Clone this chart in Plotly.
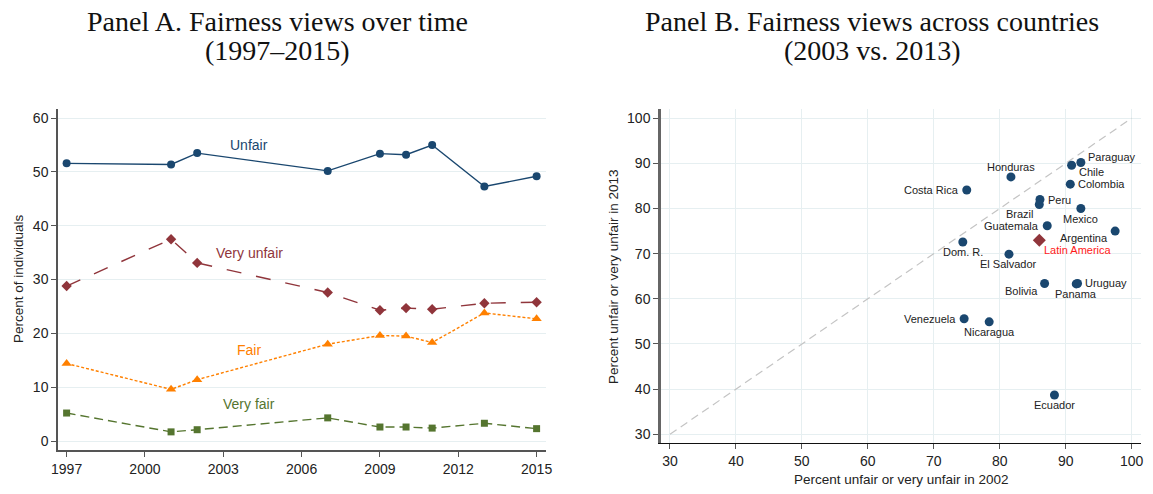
import plotly.graph_objects as go

# ---------------- Panel A data ----------------
years = [1997, 2001, 2002, 2007, 2009, 2010, 2011, 2013, 2015]
unfair = [51.6, 51.4, 53.5, 50.2, 53.4, 53.2, 55.0, 47.3, 49.2]
very_unfair = [28.8, 37.5, 33.1, 27.6, 24.3, 24.7, 24.5, 25.6, 25.8]
fair = [14.4, 9.6, 11.4, 18.0, 19.6, 19.5, 18.3, 23.8, 22.7]
very_fair = [5.2, 1.7, 2.1, 4.3, 2.6, 2.6, 2.4, 3.3, 2.3]
series_names = ["Unfair", "Very unfair", "Fair", "Very fair"]
label_x = [2004, 2004, 2004, 2004]
label_y = [55.0, 35.0, 17.0, 6.9]

# ---------------- Panel B data ----------------
countries = ["Paraguay", "Chile", "Colombia", "Honduras", "Costa Rica", "Peru",
             "Brazil", "Mexico", "Guatemala", "Argentina", "Dom. R.",
             "El Salvador", "Bolivia", "Uruguay", "Panama", "Venezuela",
             "Nicaragua", "Ecuador"]
unfair_2002 = [92.3, 90.9, 90.7, 81.7, 75.0, 86.1, 86.0, 92.3, 87.2, 97.5,
               74.4, 81.4, 86.8, 91.8, 91.6, 74.6, 78.4, 88.3]
unfair_2013 = [90.2, 89.6, 85.4, 87.0, 84.1, 82.0, 80.9, 80.0, 76.2, 75.0,
               72.6, 69.9, 63.4, 63.4, 63.3, 55.6, 54.9, 38.7]
latam_name = "Latin America"
latam_2002 = [86.0]
latam_2013 = [73.0]
diag = [30, 100]

titles_a = ["Panel A. Fairness views over time", "(1997–2015)"]
titles_b = ["Panel B. Fairness views across countries", "(2003 vs. 2013)"]

# label placement (style only): xanchor, yanchor, xshift, yshift
label_pos = {
    "Paraguay": ("left", "middle", 5, 6),
    "Chile": ("left", "middle", 5, -7),
    "Colombia": ("left", "middle", 6, 0),
    "Honduras": ("center", "middle", 0, 10),
    "Costa Rica": ("right", "middle", -6, 0),
    "Peru": ("left", "middle", 6, 0),
    "Brazil": ("right", "middle", -3, -10),
    "Mexico": ("center", "middle", 0, -10),
    "Guatemala": ("right", "middle", -6, 0),
    "Argentina": ("right", "middle", -5, -7),
    "Dom. R.": ("center", "middle", 0, -10),
    "El Salvador": ("center", "middle", 0, -10),
    "Bolivia": ("right", "middle", -5, -8),
    "Uruguay": ("left", "middle", 5, 0),
    "Panama": ("center", "middle", 0, -10),
    "Venezuela": ("right", "middle", -6, 0),
    "Nicaragua": ("center", "middle", 0, -10),
    "Ecuador": ("center", "middle", 0, -10),
}

NAVY = "#1a476f"
MAROON = "#90353b"
ORANGE = "#ff8000"
GREEN = "#55752f"
GRID = "#e6eff1"
SANS = "Liberation Sans, Arial, sans-serif"
SERIF = "Liberation Serif, Times New Roman, serif"

# page has an 8px body margin: work in window pixels, convert to figure pixels
OFF = 8
W, H = 1145, 486


def px(xw):
    return (xw - OFF) / W


def py(yw):
    return 1 - (yw - OFF) / H


fig = go.Figure()

styles = [
    (unfair, NAVY, "solid", "circle", 8),
    (very_unfair, MAROON, "longdash", "diamond", 8),
    (fair, ORANGE, "3px,2px", "triangle-up", 9),
    (very_fair, GREEN, "9px,5px", "square", 7),
]
for name, (vals, col, dash, sym, ms) in zip(series_names, styles):
    fig.add_trace(go.Scatter(
        x=years, y=vals, mode="lines+markers", name=name,
        line=dict(color=col, width=1.4, dash=dash),
        marker=dict(color=col, symbol=sym, size=ms),
        xaxis="x", yaxis="y", showlegend=False))

for name, lx, ly, (_, col, _, _, _) in zip(series_names, label_x, label_y, styles):
    fig.add_annotation(x=lx, y=ly, xref="x", yref="y", text=name,
                       showarrow=False, font=dict(family=SANS, size=14, color=col))

# Panel B
fig.add_trace(go.Scatter(x=diag, y=diag, mode="lines",
                         line=dict(color="#c4c4c4", width=1.2, dash="8px,5px"),
                         xaxis="x2", yaxis="y2", showlegend=False))
fig.add_trace(go.Scatter(x=unfair_2002, y=unfair_2013, mode="markers",
                         marker=dict(color=NAVY, size=9),
                         xaxis="x2", yaxis="y2", showlegend=False))
fig.add_trace(go.Scatter(x=latam_2002, y=latam_2013, mode="markers",
                         marker=dict(color=MAROON, size=10, symbol="diamond"),
                         xaxis="x2", yaxis="y2", showlegend=False))

for c, xv, yv in zip(countries, unfair_2002, unfair_2013):
    xa, ya, xs, ys = label_pos[c]
    fig.add_annotation(x=xv, y=yv, xref="x2", yref="y2", text=c, showarrow=False,
                       xanchor=xa, yanchor=ya, xshift=xs, yshift=ys,
                       font=dict(family=SANS, size=11, color="#222222"))
fig.add_annotation(x=latam_2002[0], y=latam_2013[0], xref="x2", yref="y2",
                   text=latam_name, showarrow=False, xanchor="left", yanchor="middle",
                   xshift=3, yshift=-10, font=dict(family=SANS, size=11, color="#ff1a1a"))

# Titles (two lines each)
for cx, lines in ((277, titles_a), (872, titles_b)):
    for cy, txt in zip((21, 51), lines):
        fig.add_annotation(x=px(cx), y=py(cy), xref="paper", yref="paper",
                           text=txt, showarrow=False, xanchor="center",
                           yanchor="middle",
                           font=dict(family=SERIF, size=28, color="#111111"))

# Axis titles
axfont = dict(family=SANS, size=13.5, color="#222222")
fig.add_annotation(x=px(18), y=py(279), xref="paper", yref="paper",
                   text="Percent of individuals", textangle=-90, showarrow=False,
                   xanchor="center", yanchor="middle", font=axfont)
fig.add_annotation(x=px(613), y=py(277), xref="paper", yref="paper",
                   text="Percent unfair or very unfair in 2013", textangle=-90,
                   showarrow=False, xanchor="center", yanchor="middle", font=axfont)
fig.add_annotation(x=px(901), y=py(479), xref="paper", yref="paper",
                   text="Percent unfair or very unfair in 2002", showarrow=False,
                   xanchor="center", yanchor="middle", font=axfont)

tickfont = dict(family=SANS, size=14, color="#222222")
common = dict(showgrid=True, gridcolor=GRID, gridwidth=1.2, zeroline=False,
              ticks="outside", ticklen=5, tickcolor="#555555", tickfont=tickfont,
              showline=True, automargin=False)

fig.update_layout(
    width=W, height=H,
    margin=dict(l=0, r=0, t=0, b=0, autoexpand=False),
    paper_bgcolor="white", plot_bgcolor="white",
    xaxis=dict(domain=[px(58), px(546)], range=[1996.67, 2015.36],
               tickvals=[1997, 2000, 2003, 2006, 2009, 2012, 2015],
               linecolor="#555555", linewidth=1.5, anchor="y",
               **{**common, "showgrid": False}),
    yaxis=dict(domain=[py(450), py(109)], range=[-1.67, 61.7],
               tickvals=[0, 10, 20, 30, 40, 50, 60], linecolor="#555555",
               linewidth=1.5, anchor="x", **common),
    xaxis2=dict(domain=[px(661), px(1141)], range=[28.64, 101.42],
                tickvals=[30, 40, 50, 60, 70, 80, 90, 100], linecolor="#111111",
                linewidth=1.3, anchor="y2", **common),
    yaxis2=dict(domain=[py(443.3), py(109)], range=[28.0, 102.05],
                tickvals=[30, 40, 50, 60, 70, 80, 90, 100], linecolor="#666666",
                linewidth=2.5, anchor="x2", **common),
)

fig.write_html("out.html")
